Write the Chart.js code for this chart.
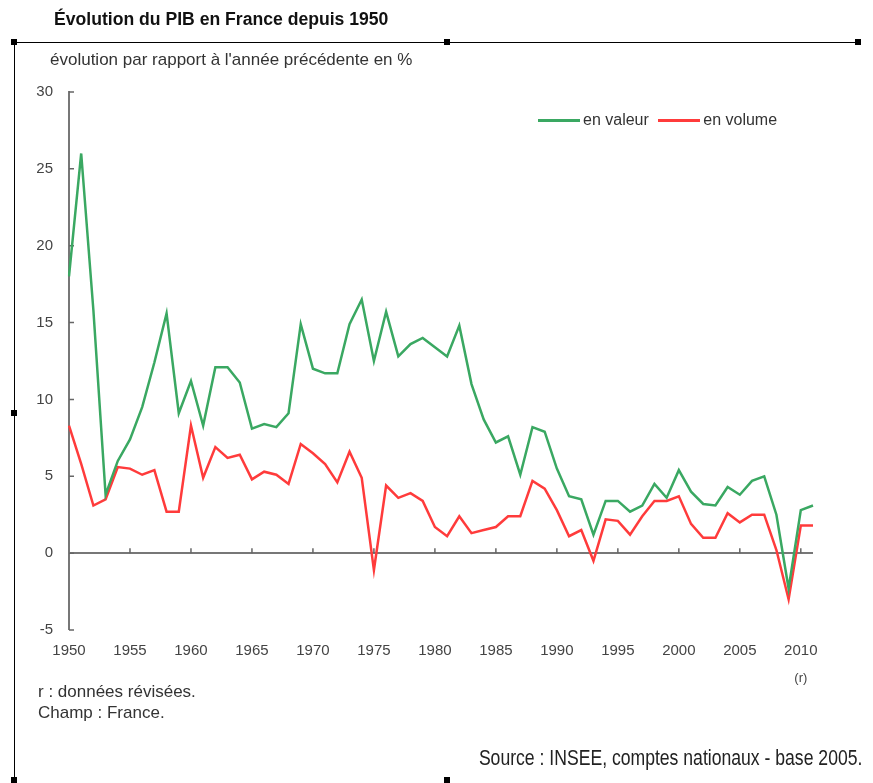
<!DOCTYPE html>
<html lang="fr">
<head>
<meta charset="utf-8">
<title>Évolution du PIB en France depuis 1950</title>
<script src="https://cdn.jsdelivr.net/npm/chart.js@4.4.1/dist/chart.umd.min.js"></script>
<style>
  body { margin: 0; background: #fff; font-family: "Liberation Sans", Arial, sans-serif; }
  #page { position: relative; width: 873px; height: 783px; overflow: hidden; }
  #chart { position: absolute; left: 0; top: 0; }
  .txt { position: absolute; white-space: nowrap; color: #333; }
  .hline { position: absolute; background: #000; }
  .handle { position: absolute; width: 6px; height: 6px; background: #000; }
  .swatch { display: inline-block; width: 42px; height: 3px; vertical-align: middle; margin-right: 3px; }
</style>
</head>
<body>
<div id="page">
  <canvas id="chart" width="873" height="783"></canvas>

  <div class="txt" style="left:54px; top:9px; font-size:17.6px; font-weight:bold; color:#111;">Évolution du PIB en France depuis 1950</div>
  <div class="hline" style="left:14px; top:42px; width:846px; height:1px;"></div>
  <div class="hline" style="left:14px; top:42px; width:1px; height:741px;"></div>
  <div class="handle" style="left:11px; top:39px;"></div>
  <div class="handle" style="left:444px; top:39px;"></div>
  <div class="handle" style="left:855px; top:39px;"></div>
  <div class="handle" style="left:11px; top:410px;"></div>
  <div class="handle" style="left:11px; top:777px;"></div>
  <div class="handle" style="left:444px; top:777px;"></div>

  <div class="txt" style="left:50px; top:50px; font-size:17px;">évolution par rapport à l'année précédente en %</div>

  <div class="txt" style="left:538px; top:111px; font-size:16px;">
    <span class="swatch" style="background:#3aa862;"></span>en valeur
    <span class="swatch" style="background:#ff3b3b; margin-left:5px;"></span>en volume
  </div>

  <div class="txt" style="left:38px; top:682px; font-size:17px;">r : données révisées.</div>
  <div class="txt" style="left:38px; top:703px; font-size:17px;">Champ : France.</div>
  <div class="txt" style="right:11px; top:745px; font-size:22px; transform:scaleX(0.8); transform-origin:right center; color:#222;">Source : INSEE, comptes nationaux - base 2005.</div>
</div>

<script>
// --- Data ---
const years = [1950, 1951, 1952, 1953, 1954, 1955, 1956, 1957, 1958, 1959,
    1960, 1961, 1962, 1963, 1964, 1965, 1966, 1967, 1968, 1969,
    1970, 1971, 1972, 1973, 1974, 1975, 1976, 1977, 1978, 1979,
    1980, 1981, 1982, 1983, 1984, 1985, 1986, 1987, 1988, 1989,
    1990, 1991, 1992, 1993, 1994, 1995, 1996, 1997, 1998, 1999,
    2000, 2001, 2002, 2003, 2004, 2005, 2006, 2007, 2008, 2009,
    2010, 2011];

const enValeur = [18.0, 26.0, 15.8, 3.8, 6.0, 7.4, 9.5, 12.4, 15.6, 9.1,
    11.2, 8.3, 12.1, 12.1, 11.1, 8.1, 8.4, 8.2, 9.1, 14.9,
    12.0, 11.7, 11.7, 14.9, 16.5, 12.5, 15.7, 12.8, 13.6, 14.0,
    13.4, 12.8, 14.8, 11.0, 8.7, 7.2, 7.6, 5.1, 8.2, 7.9,
    5.5, 3.7, 3.5, 1.2, 3.4, 3.4, 2.7, 3.1, 4.5, 3.6,
    5.4, 4.0, 3.2, 3.1, 4.3, 3.8, 4.7, 5.0, 2.5, -2.3,
    2.8, 3.1];

const enVolume = [8.3, 5.8, 3.1, 3.5, 5.6, 5.5, 5.1, 5.4, 2.7, 2.7,
    8.3, 4.9, 6.9, 6.2, 6.4, 4.8, 5.3, 5.1, 4.5, 7.1,
    6.5, 5.8, 4.6, 6.6, 4.9, -1.1, 4.4, 3.6, 3.9, 3.4,
    1.7, 1.1, 2.4, 1.3, 1.5, 1.7, 2.4, 2.4, 4.7, 4.2,
    2.8, 1.1, 1.5, -0.5, 2.2, 2.1, 1.2, 2.4, 3.4, 3.4,
    3.7, 1.9, 1.0, 1.0, 2.6, 2.0, 2.5, 2.5, 0.2, -3.0,
    1.8, 1.8];

const yTicks = [-5, 0, 5, 10, 15, 20, 25, 30];
const revisedYear = 2010;
const revisedMark = '(r)';

const tickFont = { family: '"Liberation Sans", Arial, sans-serif', size: 15 };

// small inward tick marks on the zero line and the y axis, plus the "(r)" note
const axisTicks = {
    id: 'axisTicks',
    beforeDatasetsDraw(chart) {
        const { ctx, scales: { x, y } } = chart;
        const y0 = y.getPixelForValue(0);
        ctx.save();
        ctx.strokeStyle = '#666';
        ctx.lineWidth = 1.5;
        ctx.beginPath();
        years.forEach((yr, i) => {
            if (yr % 5 === 0 && i > 0) {
                const px = x.getPixelForValue(i);
                ctx.moveTo(px, y0);
                ctx.lineTo(px, y0 - 5);
            }
        });
        yTicks.forEach(v => {
            const py = y.getPixelForValue(v);
            ctx.moveTo(x.left, py);
            ctx.lineTo(x.left + 5, py);
        });
        ctx.stroke();
        ctx.restore();
    },
    afterDraw(chart) {
        const { ctx, scales: { x } } = chart;
        const px = x.getPixelForValue(years.indexOf(revisedYear));
        ctx.save();
        ctx.fillStyle = '#444';
        ctx.font = `13px ${tickFont.family}`;
        ctx.textAlign = 'center';
        ctx.textBaseline = 'middle';
        ctx.fillText(revisedMark, px, x.bottom + 18);
        ctx.restore();
    }
};

new Chart(document.getElementById('chart'), {
    type: 'line',
    data: {
        labels: years.map(String),
        datasets: [
            { label: 'en valeur', data: enValeur, borderColor: '#3aa862', borderWidth: 2.5, pointRadius: 0, tension: 0 },
            { label: 'en volume', data: enVolume, borderColor: '#ff3b3b', borderWidth: 2.5, pointRadius: 0, tension: 0 }
        ]
    },
    options: {
        responsive: false,
        animation: false,
        layout: { padding: { top: 92, right: 60, bottom: 123, left: 0 } },
        plugins: { legend: { display: false }, tooltip: { enabled: false } },
        scales: {
            x: {
                type: 'category',
                grid: { display: false, drawTicks: false },
                border: { display: false },
                afterFit: (s) => { s.height = 30; },
                ticks: {
                    autoSkip: false,
                    maxRotation: 0,
                    padding: 12,
                    color: '#444',
                    font: tickFont,
                    callback: (val, i) => (years[i] % 5 === 0 ? String(years[i]) : '')
                }
            },
            y: {
                min: -5,
                max: 30,
                afterFit: (s) => { s.width = 69; },
                grid: {
                    drawTicks: false,
                    color: (c) => c.tick && c.tick.value === 0 ? '#777' : 'rgba(0,0,0,0)',
                    lineWidth: (c) => c.tick && c.tick.value === 0 ? 2 : 0
                },
                border: { display: true, color: '#777', width: 2 },
                ticks: { stepSize: 5, padding: 16, color: '#444', font: tickFont }
            }
        }
    },
    plugins: [axisTicks]
});
</script>
</body>
</html>
